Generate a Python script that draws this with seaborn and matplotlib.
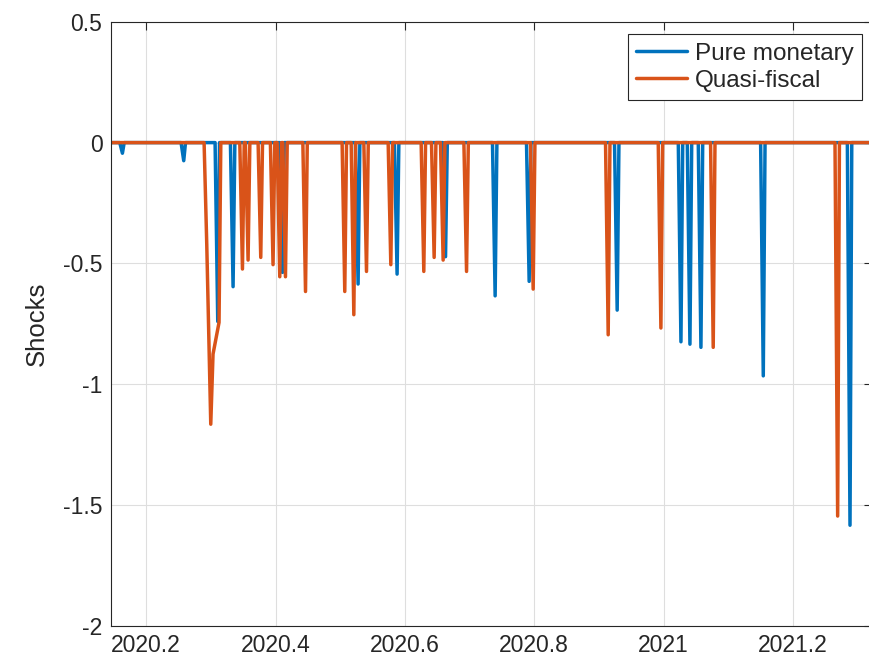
import numpy as np
import pandas as pd
import matplotlib
matplotlib.use("Agg")
import matplotlib.pyplot as plt
from matplotlib.ticker import FuncFormatter
import seaborn as sns

# shock dates (fractional year) and sizes
blue_dates = [2020.1632, 2020.2580, 2020.3106, 2020.3343, 2020.4107, 2020.5276,
              2020.5879, 2020.6628, 2020.7395, 2020.7921, 2020.9282, 2021.0268,
              2021.0407, 2021.0577, 2021.1541, 2021.2882]
blue_shocks = [-0.044, -0.075, -0.74, -0.596, -0.537, -0.585,
               -0.544, -0.472, -0.634, -0.574, -0.693, -0.824,
               -0.834, -0.847, -0.965, -1.583]

orange_dates = [2020.3488, 2020.3575, 2020.3771, 2020.3961, 2020.4065, 2020.4153,
                2020.4463, 2020.5070, 2020.5210, 2020.5406, 2020.5782, 2020.6292,
                2020.6452, 2020.6591, 2020.6953, 2020.7983, 2020.9143, 2020.9958,
                2021.0767, 2021.2691]
orange_shocks = [-0.523, -0.486, -0.475, -0.505, -0.555, -0.555,
                 -0.616, -0.616, -0.712, -0.533, -0.505, -0.533,
                 -0.475, -0.486, -0.533, -0.606, -0.795, -0.767,
                 -0.847, -1.545]

# the one multi-day episode in March 2020
orange_run_dates = [2020.2936, 2020.2998, 2020.3033, 2020.3126]
orange_run_shocks = [-0.42, -1.165, -0.875, -0.744]

DAY = 1 / 365
X_MIN, X_MAX = 2020.1451, 2021.3216


def build_series(events):
    xs, ys = [X_MIN], [0.0]
    for d, s in sorted(events, key=lambda e: e[0][0]):
        xs += [d[0] - 1.5 * DAY] + list(d) + [d[-1] + DAY]
        ys += [0.0] + list(s) + [0.0]
    xs.append(X_MAX)
    ys.append(0.0)
    return pd.DataFrame({"year": xs, "shock": ys})


blue_df = build_series([([d], [s]) for d, s in zip(blue_dates, blue_shocks)])
orange_df = build_series([([d], [s]) for d, s in zip(orange_dates, orange_shocks)]
                         + [(orange_run_dates, orange_run_shocks)])

sns.set_style("white")
plt.rcParams["font.family"] = ["Liberation Sans", "DejaVu Sans"]

fig = plt.figure(figsize=(8.69, 6.65), dpi=100)
ax = fig.add_axes([0.1274, 0.0586, 0.8756, 0.9087])

sns.lineplot(data=blue_df, x="year", y="shock", color="#0072BD", lw=2.5,
             estimator=None, sort=False, label="Pure monetary", ax=ax)
sns.lineplot(data=orange_df, x="year", y="shock", color="#D95319", lw=2.5,
             estimator=None, sort=False, label="Quasi-fiscal", ax=ax)

ax.set_xlim(X_MIN, X_MAX)
ax.set_ylim(-2, 0.5)
ax.set_xticks([2020.2, 2020.4, 2020.6, 2020.8, 2021.0, 2021.2])
ax.set_yticks([-2, -1.5, -1, -0.5, 0, 0.5])
fmt = FuncFormatter(lambda v, p: "%g" % round(v, 4))
ax.xaxis.set_major_formatter(fmt)
ax.yaxis.set_major_formatter(fmt)

ax.grid(True, color="#dedede", lw=0.8)
ax.set_axisbelow(True)
for sp in ax.spines.values():
    sp.set_color("#262626")
    sp.set_linewidth(0.8)
ax.tick_params(direction="in", length=5.5, width=0.8, colors="#262626",
               labelsize=16.5, top=True, right=True, pad=6)
ax.set_xlabel("")
ax.set_ylabel("Shocks", fontsize=18.5, color="#262626", labelpad=10)

leg = ax.legend(loc="upper right", bbox_to_anchor=(0.9874, 0.9797),
                borderaxespad=0, fontsize=17.5, handlelength=2.1,
                handletextpad=0.3, labelspacing=0.22, fancybox=False,
                framealpha=1, edgecolor="#262626", borderpad=0.35)
leg.get_frame().set_linewidth(0.8)

fig.savefig("out.png", dpi=100)
